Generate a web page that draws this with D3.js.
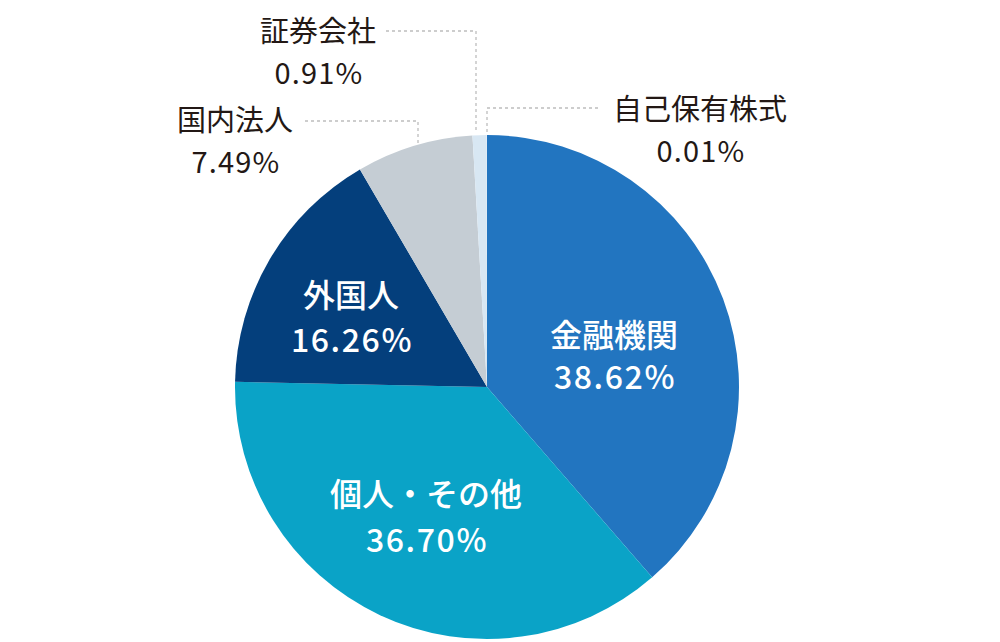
<!DOCTYPE html>
<html>
<head>
<meta charset="utf-8">
<script src="https://cdn.jsdelivr.net/npm/d3@7"></script>
<style>
  html, body { margin: 0; padding: 0; background: #fff; }
  svg { display: block; }
  text { font-family: "Noto Sans CJK JP", "Noto Sans", sans-serif; }
</style>
</head>
<body>
<div id="chart"></div>
<script>
// shareholder breakdown, clockwise from 12 o'clock
var categories = ["金融機関", "個人・その他", "外国人", "国内法人", "証券会社", "自己保有株式"];
var shares = [38.62, 36.70, 16.26, 7.49, 0.91, 0.01];
var shareLabels = ["38.62%", "36.70%", "16.26%", "7.49%", "0.91%", "0.01%"];
var colors = ["#2275c0", "#0aa3c7", "#043f7c", "#c5cdd4", "#d8e7f3", "#eef5fb"];

var config = {
    width: 1000,
    height: 642,
    cx: 487,
    cy: 387,
    radius: 252,
    // label anchors: x, name baseline, value baseline
    inside: {
        "金融機関": [614, 347, 389],
        "個人・その他": [426, 506, 552],
        "外国人": [351, 307, 352]
    },
    outside: {
        "証券会社": { text: [318, 42, 84], line: [[386, 31], [476, 31], [476, 133]] },
        "国内法人": { text: [235, 131, 173], line: [[305, 121], [418, 121], [418, 145]] },
        "自己保有株式": { text: [700, 120, 162], line: [[598, 108], [487, 108], [487, 134]] }
    }
};

var data = categories.map((c, i) => ({ name: c, value: shares[i], label: shareLabels[i], color: colors[i] }));

var svg = d3.select("#chart").append("svg")
    .attr("width", config.width)
    .attr("height", config.height);

var pie = d3.pie().sort(null).value((d) => d.value);
var arc = d3.arc().innerRadius(0).outerRadius(config.radius);

svg.append("g")
    .attr("transform", `translate(${config.cx},${config.cy})`)
    .selectAll("path")
    .data(pie(data))
    .join("path")
    .attr("d", arc)
    .attr("fill", (d) => d.data.color);

// inside labels
data.filter((d) => config.inside[d.name]).forEach((d) => {
    var p = config.inside[d.name];
    var g = svg.append("g").attr("fill", "#fff").attr("text-anchor", "middle")
        .style("font-size", "32px").style("font-weight", 500);
    g.append("text").attr("x", p[0]).attr("y", p[1]).text(d.name);
    g.append("text").attr("x", p[0] + 1).attr("y", p[2])
        .style("letter-spacing", "1.6px").text(d.label);
});

// outside labels with dashed leaders
var line = d3.line();
data.filter((d) => config.outside[d.name]).forEach((d) => {
    var o = config.outside[d.name];
    svg.append("path")
        .attr("d", line(o.line))
        .attr("fill", "none")
        .attr("stroke", "#bdbdbd")
        .attr("stroke-width", 1.3)
        .attr("stroke-dasharray", "3,3");
    var g = svg.append("g").attr("fill", "#231815").attr("text-anchor", "middle")
        .style("font-size", "29px").style("font-weight", 400);
    g.append("text").attr("x", o.text[0]).attr("y", o.text[1]).text(d.name);
    g.append("text").attr("x", o.text[0] + 1).attr("y", o.text[2])
        .style("letter-spacing", "1.2px").text(d.label);
});
</script>
</body>
</html>
